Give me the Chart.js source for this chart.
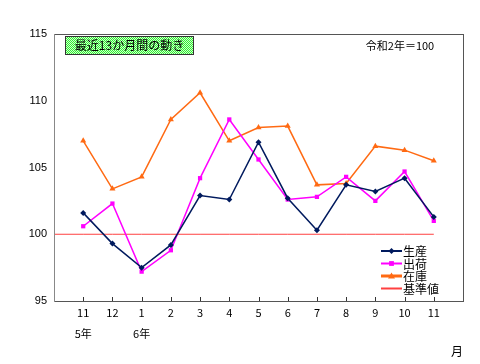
<!DOCTYPE html>
<html>
<head>
<meta charset="utf-8">
<script src="https://cdn.jsdelivr.net/npm/chart.js@4"></script>
<style>
  html, body { margin: 0; padding: 0; background: #fff; }
  #wrap { width: 480px; height: 364px; position: relative; }
</style>
</head>
<body>
<div id="wrap"><canvas id="chart" width="480" height="364"></canvas></div>
<script>
// months, padded with an empty slot on each side
const months = ['', '11', '12', '1', '2', '3', '4', '5', '6', '7', '8', '9', '10', '11', '']
const years = ['', '5年', '', '6年', '', '', '', '', '', '', '', '', '', '', '']
const seisan = [null, 101.6, 99.3, 97.5, 99.2, 102.9, 102.6, 106.9, 102.7, 100.3, 103.7, 103.2, 104.2, 101.3, null]
const shukka = [null, 100.6, 102.3, 97.2, 98.8, 104.2, 108.6, 105.6, 102.6, 102.8, 104.3, 102.5, 104.7, 101.0, null]
const zaiko = [null, 107.0, 103.4, 104.3, 108.6, 110.6, 107.0, 108.0, 108.1, 103.7, 103.8, 106.6, 106.3, 105.5, null]
const kijun = [100, 100, 100, 100, 100, 100, 100, 100, 100, 100, 100, 100, 100, 100, null]
const yTicks = [95, 100, 105, 110, 115]

const jpFont = '"Noto Sans CJK JP", "Liberation Sans", sans-serif'

function makePattern(ctx){
    let c = document.createElement('canvas')
    c.width = 2; c.height = 2
    let p = c.getContext('2d')
    p.fillStyle = '#ccffcc'; p.fillRect(0,0,2,2)
    p.fillStyle = '#33ee33'; p.fillRect(0,0,1,1); p.fillRect(1,1,1,1)
    return ctx.createPattern(c, 'repeat')
}

const extras = {
    id: 'extras',
    afterDraw(chart){
        let ctx = chart.ctx
        let a = chart.chartArea
        let x = chart.scales.x
        let L = Math.round(a.left), R = Math.round(a.right), T = Math.round(a.top), B = Math.round(a.bottom)
        ctx.save()
        // frame
        ctx.fillStyle = '#555'
        ctx.fillRect(L, T, R-L+1, 1)
        ctx.fillRect(R, T, 1, B-T+1)
        ctx.fillRect(L, B, R-L+1, 1)
        ctx.fillStyle = '#888'
        ctx.fillRect(L, T, 1, B-T+1)
        // inside ticks on the x axis
        ctx.fillStyle = '#333'
        for(let i=1; i<months.length-1; i++){
            let px = Math.round(x.getPixelForValue(i))
            ctx.fillRect(px, B-4, 1, 4)
        }
        // title box
        ctx.fillStyle = makePattern(ctx)
        ctx.fillRect(66, 37, 127, 17)
        ctx.strokeStyle = '#333'
        ctx.lineWidth = 1
        ctx.strokeRect(65.5, 36.5, 128, 18)
        ctx.fillStyle = '#000'
        ctx.font = '12px ' + jpFont
        ctx.textAlign = 'center'
        ctx.textBaseline = 'middle'
        ctx.fillText('最近13か月間の動き', 129.5, 45.5)
        ctx.font = '11px ' + jpFont
        ctx.fillText('令和2年＝100', 400, 45.5)
        ctx.font = '12px ' + jpFont
        ctx.fillText('月', 457, 351)
        // legend
        let rows = [251, 263.5, 276, 288.5]
        chart.data.datasets.forEach((ds, i) => {
            let y = rows[i]
            ctx.strokeStyle = ds.borderColor
            ctx.lineWidth = ds.legendWidth
            ctx.beginPath(); ctx.moveTo(381, y); ctx.lineTo(402, y); ctx.stroke()
            if(ds.pointStyle && ds.pointRadius > 0){
                ctx.fillStyle = ds.borderColor
                let s = ds.pointRadius
                ctx.beginPath()
                if(ds.pointStyle == 'rectRot'){
                    ctx.moveTo(391.5, y-s); ctx.lineTo(391.5+s, y); ctx.lineTo(391.5, y+s); ctx.lineTo(391.5-s, y)
                } else if(ds.pointStyle == 'rect'){
                    ctx.rect(391.5-s*0.8, y-s*0.8, s*1.6, s*1.6)
                } else {
                    ctx.moveTo(391.5, y-s); ctx.lineTo(391.5+s, y+s*0.7); ctx.lineTo(391.5-s, y+s*0.7)
                }
                ctx.fill()
            }
            ctx.fillStyle = '#000'
            ctx.font = '12px ' + jpFont
            ctx.textAlign = 'left'
            ctx.fillText(ds.label, 403, y+0.5)
        })
        ctx.restore()
    }
}

const chart = new Chart(document.querySelector('#chart'), {
    type: 'line',
    data: {
        labels: months.map((m, i) => [m, years[i]]),
        datasets: [
            {label: '生産', data: seisan, borderColor: '#001a5e', backgroundColor: '#001a5e', borderWidth: 1.5, legendWidth: 2,
             pointStyle: 'rectRot', pointRadius: 3, pointBorderWidth: 0},
            {label: '出荷', data: shukka, borderColor: '#ff00ff', backgroundColor: '#ff00ff', borderWidth: 1.5, legendWidth: 2,
             pointStyle: 'rect', pointRadius: 3, pointBorderWidth: 0},
            {label: '在庫', data: zaiko, borderColor: '#ff6a13', backgroundColor: '#ff6a13', borderWidth: 1.5, legendWidth: 3,
             pointStyle: 'triangle', pointRadius: 3.5, pointBorderWidth: 0},
            {label: '基準値', data: kijun, borderColor: '#ff4040', backgroundColor: '#ff4040', borderWidth: 1, legendWidth: 2,
             pointStyle: false, pointRadius: 0}
        ]
    },
    options: {
        responsive: false,
        animation: false,
        spanGaps: false,
        layout: {padding: {top: 34, right: 17, left: 0, bottom: 0}},
        plugins: {legend: {display: false}, tooltip: {enabled: false}},
        scales: {
            x: {
                offset: false,
                grid: {display: false, drawTicks: false},
                border: {display: false},
                afterFit: s => { s.height = 63 },
                ticks: {
                    color: '#000', maxRotation: 0, autoSkip: false, padding: 1,
                    font: {family: jpFont, size: 11, lineHeight: '21px'}
                }
            },
            y: {
                min: 95, max: 115,
                afterFit: s => { s.width = 54 },
                afterBuildTicks: s => { s.ticks = yTicks.map(v => ({value: v})) },
                grid: {display: false, drawTicks: false},
                border: {display: false},
                ticks: {color: '#000', padding: 7, font: {family: '"Liberation Sans", sans-serif', size: 11}}
            }
        }
    },
    plugins: [extras]
})
</script>
</body>
</html>
